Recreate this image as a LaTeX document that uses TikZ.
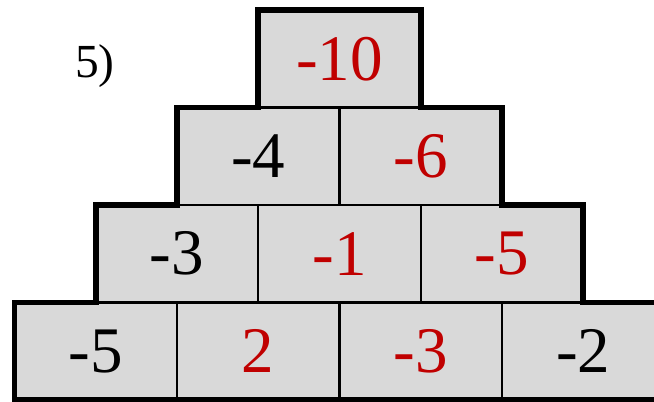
\documentclass[tikz,border=0pt]{standalone}
\usepackage{fontspec}
\setmainfont{Liberation Serif}
\usetikzlibrary{positioning}
\definecolor{CellGray}{HTML}{D9D9D9}
\definecolor{AnsRed}{HTML}{C00000}

\begin{document}
\begin{tikzpicture}[x=1cm,y=-1cm,
  cell/.style={draw=black,line width=0.6pt,fill=CellGray,minimum width=1.625cm,minimum height=0.975cm,inner sep=0pt,outer sep=0pt,font=\fontsize{18.5}{20}\selectfont},
  ans/.style={text=AnsRed},
  outline/.style={draw=black,line width=1.6pt,line join=miter}]
  \useasboundingbox (0,0) rectangle (6.54,4.02);
  \clip (0,0) rectangle (6.54,4.02);
  % bottom row
  \node[cell,anchor=north west] (a1) at (0.145,3.025) {-5};
  \node[cell,ans,right=0pt of a1] (a2) {2};
  \node[cell,ans,right=0pt of a2] (a3) {-3};
  \node[cell,right=0pt of a3] (a4) {-2};
  % third row
  \node[cell,anchor=south west] (b1) at (a1.north) {-3};
  \node[cell,ans,right=0pt of b1] (b2) {-1};
  \node[cell,ans,right=0pt of b2] (b3) {-5};
  % second row
  \node[cell,anchor=south west] (c1) at (b1.north) {-4};
  \node[cell,ans,right=0pt of c1] (c2) {-6};
  % top
  \node[cell,ans,anchor=south west] (d1) at (c1.north) {-10};
  % thick outer border
  \draw[outline] (a1.south west) |- (b1.south west) |- (c1.south west) |- (d1.south west)
    -- (d1.north west) -- (d1.north east) -- (d1.south east) -- (c2.north east) -- (c2.south east)
    -- (b3.north east) -- (b3.south east) -- (a4.north east) -- (a4.south east) -- cycle;
  \node[font=\fontsize{13.5}{15}\selectfont] (lbl) at (0.95,0.66) {5)};
\end{tikzpicture}
\end{document}
